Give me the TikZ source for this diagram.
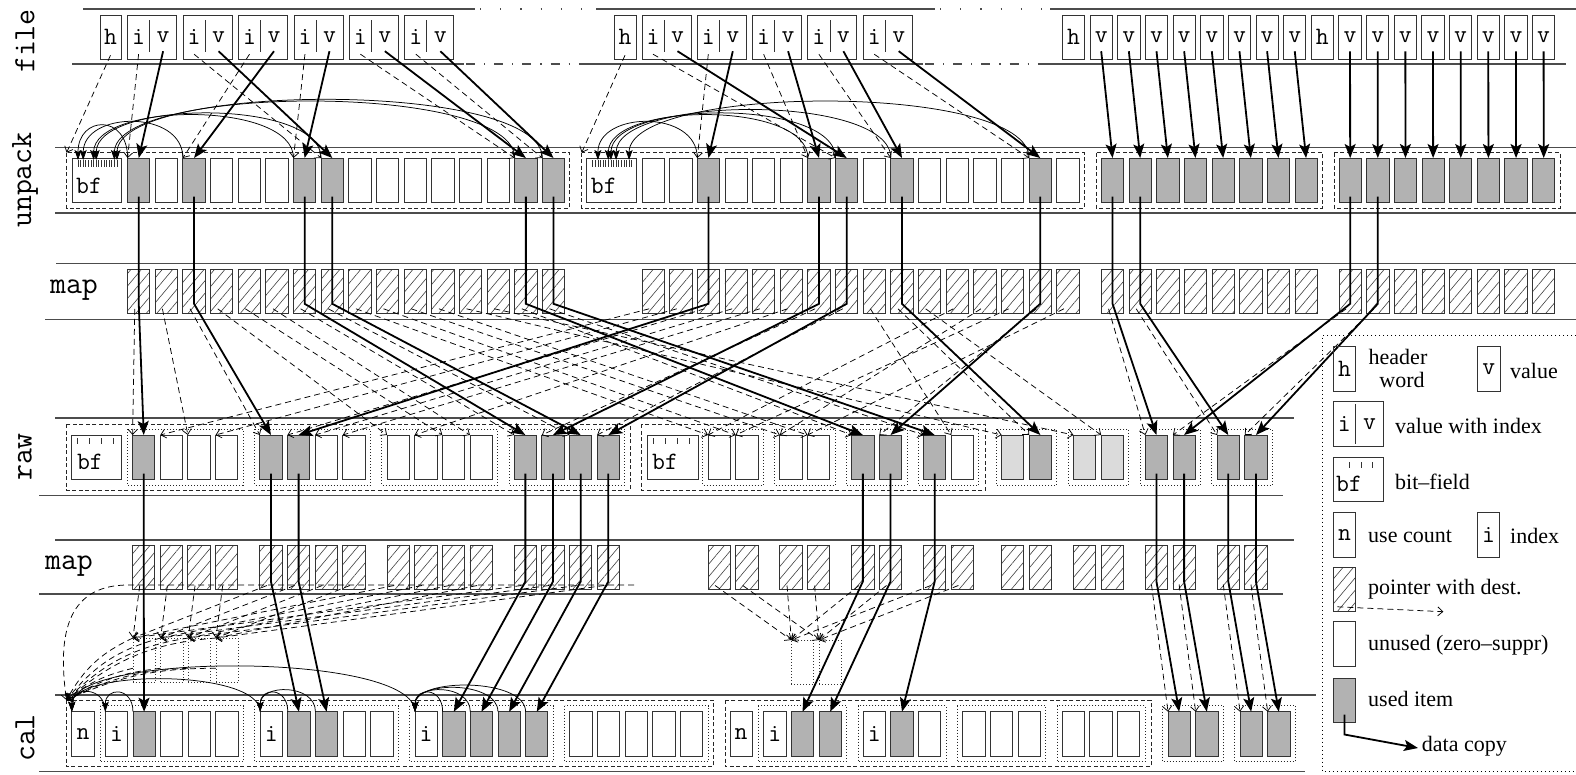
\documentclass[tikz,border=0pt]{standalone}
\usepackage{fontspec}
\setmainfont{Liberation Serif}
\usetikzlibrary{arrows.meta,patterns.meta,calc}
\begin{document}
\begin{tikzpicture}[x=1pt,y=-1pt,
  rule/.style={line width=1.1pt, draw=black!70},
  cell/.style={draw=black!80, line width=0.9pt, minimum width=22.3pt, minimum height=44.5pt, inner sep=0pt, outer sep=0pt, anchor=north west, font=\fontsize{25}{25}\selectfont\ttfamily},
  used/.style={cell, fill=black!30},
  hatch/.style={cell, pattern={Lines[angle=50,distance=8pt,line width=0.6pt]}, pattern color=black!75},
  temp/.style={cell, line width=0.8pt, dash pattern=on 1pt off 2pt},
  obox/.style={draw=black!85, line width=0.8pt, dash pattern=on 4pt off 2.5pt},
  gbox/.style={draw=black!85, line width=0.8pt, dash pattern=on 1pt off 2pt},
  tt/.style={font=\fontsize{25}{25}\selectfont\ttfamily, inner sep=0pt},
  lab/.style={font=\fontsize{31}{31}\selectfont\ttfamily, inner sep=0pt},
  txt/.style={font=\fontsize{22}{23.5}\selectfont, anchor=west, inner sep=0pt},
  data/.style={line width=1.8pt, -{Stealth[length=14pt,width=11pt,inset=3pt]}},
  ptr/.style={line width=0.75pt, dash pattern=on 6pt off 4pt, -{Straight Barb[length=5pt,width=9pt]}},
  bit/.style={line width=0.75pt, -{Stealth[length=10pt,width=7pt,inset=2pt]}},
  tick/.style={line width=0.8pt, draw=black!80},
  fillg/.style={draw=black!80, line width=0.9pt, fill=black!30},
  filll/.style={draw=black!80, line width=0.9pt, fill=black!14},
]
\useasboundingbox (0,0) rectangle (1576,774);
% ---------------- rules
\draw[rule] (83,9)--(475,9) (596,9)--(935,9) (1050,9)--(1576,9);
\draw[rule, dash pattern=on 1.2pt off 19pt] (480,9)--(596,9) (940,9)--(1050,9);
\draw[rule] (72,64)--(464,64) (583,64)--(923,64) (1040,64)--(1566,64);
\draw[rule, dash pattern=on 9pt off 9pt on 1.2pt off 9pt] (466,64)--(583,64) (925,64)--(1040,64);
\draw[rule] (55,147.3)--(1576,147.3) (55,213)--(1576,213);
\draw[rule] (56,263.3)--(1576,263.3) (45,319.3)--(1576,319.3);
\draw[rule] (55,418)--(1294,418) (39,495.7)--(1283,495.7);
\draw[rule] (55,540)--(1294,540) (39,594)--(1283,594);
\draw[rule] (55,695)--(1316,695) (39,771.5)--(1305,771.5);
% ---------------- row labels
\node[lab, rotate=90] (Lfile) at (25,41) {file};
\node[lab, rotate=90] (Lunpack) at (25,180) {unpack};
\node[lab] (Lmap1) at (74,290) {map};
\node[lab, rotate=90] (Lraw) at (25,457) {raw};
\node[lab] (Lmap2) at (69,566) {map};
\node[lab, rotate=90] (Lcal) at (25,738) {cal};
% ---------------- file row
\node[cell, minimum width=21pt] (fhL) at (100,15) {h};
\foreach \kk in {0,...,5}{
  \pgfmathsetmacro\xx{127.6+\kk*55.45}
  \node[cell, minimum width=49pt] (fbL-\kk) at (\xx,15) {};
  \draw[line width=0.8pt, draw=black!80] (\xx+22,20) -- (\xx+22,52);
  \node[tt] (fiL-\kk) at (\xx+11,37.2) {i};
  \node[tt] (fvL-\kk) at (\xx+35.5,37.2) {v};
}
\node[cell, minimum width=22pt] (fhM) at (614,15) {h};
\foreach \kk in {0,...,4}{
  \pgfmathsetmacro\xx{642+\kk*55.3}
  \node[cell, minimum width=49pt] (fbM-\kk) at (\xx,15) {};
  \draw[line width=0.8pt, draw=black!80] (\xx+22,20) -- (\xx+22,52);
  \node[tt] (fiM-\kk) at (\xx+11,37.2) {i};
  \node[tt] (fvM-\kk) at (\xx+35.5,37.2) {v};
}
\foreach \kk in {0,...,17}{
  \pgfmathsetmacro\xx{1062.4+\kk*27.65}
  \ifnum\kk=0 \def\lt{h}\else\ifnum\kk=9 \def\lt{h}\else\def\lt{v}\fi\fi
  \node[cell] (fR-\kk) at (\xx,15) {\lt};
}
% ---------------- unpack row
\draw[obox] (66.6,152.7) rectangle (569.6,208);
\coordinate (uLbox) at (66.6,152.7);
\node[cell, minimum width=49.3pt] (uLbf) at (72,158) {};
\node[tt, anchor=west] at ($(uLbf.west)+(4,6)$) {bf};
\foreach \bb in {0,...,15}{\pgfmathsetmacro\xx{78+\bb*2.6}
  \draw[tick] (\xx,160)--(\xx,167); \coordinate (bL-\bb) at (\xx,160);}
\foreach \kk/\st in {0/used,1/cell,2/used,3/cell,4/cell,5/cell,6/used,7/used,8/cell,9/cell,10/cell,11/cell,12/cell,13/cell,14/used,15/used}{
  \pgfmathsetmacro\xx{127.6+\kk*27.65}
  \node[\st] (uL-\kk) at (\xx,158) {};
  \node[hatch] (pL-\kk) at (\xx,269.3) {};
}
\draw[obox] (581.7,152.7) rectangle (1084,208);
\coordinate (uMbox) at (581.7,152.7);
\node[cell, minimum width=49.3pt] (uMbf) at (586.7,158) {};
\node[tt, anchor=west] at ($(uMbf.west)+(4,6)$) {bf};
\foreach \bb in {0,...,15}{\pgfmathsetmacro\xx{592.7+\bb*2.6}
  \draw[tick] (\xx,160)--(\xx,167); \coordinate (bM-\bb) at (\xx,160);}
\foreach \kk/\st in {0/cell,1/cell,2/used,3/cell,4/cell,5/cell,6/used,7/used,8/cell,9/used,10/cell,11/cell,12/cell,13/cell,14/used,15/cell}{
  \pgfmathsetmacro\xx{642+\kk*27.65}
  \node[\st] (uM-\kk) at (\xx,158) {};
  \node[hatch] (pM-\kk) at (\xx,269.3) {};
}
\draw[obox] (1096,152.7) rectangle (1322.5,208);
\draw[obox] (1334,152.7) rectangle (1560,208);
\foreach \kk in {0,...,7}{
  \pgfmathsetmacro\xx{1101.4+\kk*27.65}
  \node[used] (uA-\kk) at (\xx,158) {};
  \node[hatch] (pA-\kk) at (\xx,269.3) {};
  \pgfmathsetmacro\xx{1339+\kk*27.65}
  \node[used] (uB-\kk) at (\xx,158) {};
  \node[hatch] (pB-\kk) at (\xx,269.3) {};
}
% ---------------- raw + map2 rows
\draw[obox] (66.5,424.3) rectangle (630,490);
\node[cell, minimum width=49.8pt] (rLbf) at (71.8,435) {};
\node[tt, anchor=west] at ($(rLbf.west)+(5,5)$) {bf};
\foreach \ii in {0,...,3}{\pgfmathsetmacro\xx{77.8+\ii*12} \draw[tick] (\xx,438)--(\xx,444);}
\foreach \gi in {0,...,3}{
  \pgfmathsetmacro\gx{132.6+\gi*127.2}
  \draw[gbox] (\gx-5.3,429) rectangle (\gx+110.55,485);
  \foreach \jj in {0,...,3}{
    \pgfmathsetmacro\xx{\gx+\jj*27.65}
    \node[cell] (rL-\gi-\jj) at (\xx,435) {};
    \node[hatch] (qL-\gi-\jj) at (\xx,545) {};
  }
}
\draw[obox] (641,424.3) rectangle (985.6,490);
\node[cell, minimum width=51pt] (rMbf) at (647,435) {};
\node[tt, anchor=west] at ($(rMbf.west)+(5,5)$) {bf};
\foreach \ii in {0,...,3}{\pgfmathsetmacro\xx{653+\ii*12} \draw[tick] (\xx,438)--(\xx,444);}
\foreach \gi in {0,...,3}{
  \pgfmathsetmacro\gx{708+\gi*71.85}
  \draw[gbox] (\gx-5.3,429) rectangle (\gx+55.25,485);
  \foreach \jj in {0,1}{
    \pgfmathsetmacro\xx{\gx+\jj*27.65}
    \node[cell] (rM-\gi-\jj) at (\xx,435) {};
    \node[hatch] (qM-\gi-\jj) at (\xx,545) {};
  }
  \pgfmathsetmacro\gx{1001.6+\gi*71.85}
  \draw[gbox] (\gx-5.3,429) rectangle (\gx+55.25,485);
  \foreach \jj in {0,1}{
    \pgfmathsetmacro\xx{\gx+\jj*27.65}
    \node[cell] (rR-\gi-\jj) at (\xx,435) {};
    \node[hatch] (qR-\gi-\jj) at (\xx,545) {};
  }
}
\foreach \nm in {rL-0-0,rL-1-0,rL-1-1,rL-3-0,rL-3-1,rL-3-2,rL-3-3,rM-2-0,rM-2-1,rM-3-0,rR-0-1,rR-2-0,rR-2-1,rR-3-0,rR-3-1}
  \draw[fillg] (\nm.north west) rectangle (\nm.south east);
\foreach \nm in {rR-0-0,rR-1-0,rR-1-1}
  \draw[filll] (\nm.north west) rectangle (\nm.south east);
% ---------------- temporary boxes
\foreach \jj in {0,...,3}{\pgfmathsetmacro\xx{132.95+\jj*27.65}
  \node[temp] (tL-\jj) at (\xx,638) {};}
\node[temp] (tM-0) at (791.35,640) {};
\node[temp] (tM-1) at (819,640) {};
% ---------------- cal row
\draw[obox] (66.5,700) rectangle (713.5,766.7);
\coordinate (cLbox) at (66.5,700);
\node[cell] (cLn) at (71.8,711.7) {n};
\foreach \gi in {0,...,3}{
  \pgfmathsetmacro\gx{105.3+\gi*154.85}
  \draw[gbox] (\gx-5.3,705.7) rectangle (\gx+138.2,761.7);
  \foreach \jj in {0,...,4}{
    \pgfmathsetmacro\xx{\gx+\jj*27.65}
    \node[cell] (cL-\gi-\jj) at (\xx,711.7) {};
  }
}
\draw[obox] (725,700) rectangle (1151,766.7);
\node[cell] (cMn) at (730,711.7) {n};
\foreach \gi in {0,...,3}{
  \pgfmathsetmacro\gx{763.7+\gi*99.5}
  \draw[gbox] (\gx-5.3,705.7) rectangle (\gx+82.9,761.7);
  \foreach \jj in {0,...,2}{
    \pgfmathsetmacro\xx{\gx+\jj*27.65}
    \node[cell] (cM-\gi-\jj) at (\xx,711.7) {};
  }
}
\foreach \gi/\gx in {0/1168,1/1240}{
  \draw[gbox] (\gx-5.3,705.7) rectangle (\gx+55.25,761.7);
  \foreach \jj in {0,1}{
    \pgfmathsetmacro\xx{\gx+\jj*27.65}
    \node[used] (cR-\gi-\jj) at (\xx,711.7) {};
  }
}
\foreach \nm in {cL-0-1,cL-1-1,cL-1-2,cL-2-1,cL-2-2,cL-2-3,cL-2-4,cM-0-1,cM-0-2,cM-1-1}
  \draw[fillg] (\nm.north west) rectangle (\nm.south east);
\foreach \nm in {cL-0-0,cL-1-0,cL-2-0,cM-0-0,cM-1-0}
  \node[tt] at (\nm) {i};
% ================= connectors
% file -> unpack
\draw[ptr] ($(fhL)+(0,18)$) -- (uLbox);
\draw[ptr] ($(fhM)+(0,18)$) -- (uMbox);
\foreach \kk/\tg in {0/0,1/7,2/2,3/6,4/14,5/15}{
  \draw[ptr] ($(fiL-\kk)+(0,17)$) -- (uL-\tg.north west);
  \draw[data] ($(fvL-\kk)+(0,14)$) -- (uL-\tg.north);
  \draw[bit] let \p1=(uL-\tg.north west), \p2=(bL-\tg), \n1={40+0.09*(\x1-\x2)} in
    (\p1) .. controls +(0pt,\n1) and +(0pt,\n1) .. (\p2);
}
\foreach \kk/\tg in {0/7,1/2,2/6,3/9,4/14}{
  \draw[ptr] ($(fiM-\kk)+(0,17)$) -- (uM-\tg.north west);
  \draw[data] ($(fvM-\kk)+(0,14)$) -- (uM-\tg.north);
  \draw[bit] let \p1=(uM-\tg.north west), \p2=(bM-\tg), \n1={40+0.09*(\x1-\x2)} in
    (\p1) .. controls +(0pt,\n1) and +(0pt,\n1) .. (\p2);
}
\foreach \kk in {1,...,8}{\pgfmathtruncatemacro\tg{\kk-1}
  \draw[data] ($(fR-\kk)+(0,14)$) -- (uA-\tg.north);}
\foreach \kk in {10,...,17}{\pgfmathtruncatemacro\tg{\kk-10}
  \draw[data] ($(fR-\kk)+(0,14)$) -- (uB-\tg.north);}
% map1 -> raw pointers
\foreach \kk/\tg in {0/rL-0-0,1/rL-0-2,2/rL-1-0,3/rL-2-0,4/rL-2-2,5/rL-2-3,6/rL-3-0,7/rL-3-2,8/rM-0-0,9/rM-0-1,10/rM-1-0,11/rM-1-1,12/rR-0-0,13/rR-1-0,14/rM-2-0,15/rM-3-0}
  \draw[ptr] ($(pL-\kk.south)+(-4,-5)$) -- (\tg.north west);
\foreach \kk/\tg in {0/rL-0-1,1/rL-0-3,2/rL-1-1,3/rL-1-2,4/rL-1-3,5/rL-2-1,6/rL-3-1,7/rL-3-3,8/rM-3-1,9/rR-0-1,10/rR-1-1,11/rM-0-0,12/rM-1-0,13/rM-0-1,14/rM-2-1,15/rM-1-1}
  \draw[ptr] ($(pM-\kk.south)+(-4,-5)$) -- (\tg.north west);
\draw[ptr] ($(pA-0.south)+(-4,-5)$) -- (rR-2-0.north west);
\draw[ptr] ($(pA-1.south)+(-4,-5)$) -- (rR-3-0.north west);
\draw[ptr] ($(pB-0.south)+(-4,-5)$) -- (rR-2-1.north west);
\draw[ptr] ($(pB-1.south)+(-4,-5)$) -- (rR-3-1.north west);
% unpack -> raw data
\foreach \kk/\tg in {0/rL-0-0,2/rL-1-0,6/rL-3-0,7/rL-3-2,14/rM-2-0,15/rM-3-0}
  \draw[data] ($(uL-\kk.south)+(0,-6)$) -- ($(pL-\kk.south)+(0,-10)$) -- (\tg.north);
\foreach \kk/\tg in {2/rL-1-1,6/rL-3-1,7/rL-3-3,9/rR-0-1,14/rM-2-1}
  \draw[data] ($(uM-\kk.south)+(0,-6)$) -- ($(pM-\kk.south)+(0,-10)$) -- (\tg.north);
\draw[data] ($(uA-0.south)+(0,-6)$) -- ($(pA-0.south)+(0,-10)$) -- (rR-2-0.north);
\draw[data] ($(uA-1.south)+(0,-6)$) -- ($(pA-1.south)+(0,-10)$) -- (rR-3-0.north);
\draw[data] ($(uB-0.south)+(0,-6)$) -- ($(pB-0.south)+(0,-10)$) -- (rR-2-1.north);
\draw[data] ($(uB-1.south)+(0,-6)$) -- ($(pB-1.south)+(0,-10)$) -- (rR-3-1.north);
% map2 -> temporaries
\foreach \gi in {0,...,3}{\foreach \jj in {0,...,3}{
  \draw[ptr] ($(qL-\gi-\jj.south)+(-4,-4)$) -- (tL-\jj.north west);}}
\foreach \gi in {0,...,3}{\foreach \jj in {0,1}{
  \draw[ptr] ($(qM-\gi-\jj.south)+(-4,-4)$) -- (tM-\jj.north west);}}
\foreach \jj in {0,...,3}{
  \draw[ptr] (tL-\jj.north west) to[bend right=18] (cLbox);
  \draw[ptr] ($(tL-\jj.west)+(0,8)$) to[bend right=12] (cLbox);}
\coordinate (bigS) at (634,585);
\draw[ptr] (bigS) -- (128,585) .. controls (64,585) and (58,640) .. (cLbox);
\foreach \gi/\jj/\tg in {2/0/cR-0-0,2/1/cR-0-1,3/0/cR-1-0,3/1/cR-1-1}
  \draw[ptr] ($(qR-\gi-\jj.south)+(-5,-5)$) -- (\tg.north west);
% raw -> cal data
\foreach \bk/\gi/\jj/\tg in {L/0/0/cL-0-1,L/1/0/cL-1-1,L/1/1/cL-1-2,L/3/0/cL-2-1,L/3/1/cL-2-2,L/3/2/cL-2-3,L/3/3/cL-2-4,M/2/0/cM-0-1,M/2/1/cM-0-2,M/3/0/cM-1-1,R/2/0/cR-0-0,R/2/1/cR-0-1,R/3/0/cR-1-0,R/3/1/cR-1-1}
  \draw[data] ($(r\bk-\gi-\jj.south)+(0,-6)$) -- ($(q\bk-\gi-\jj.south)+(0,-8)$) -- (\tg.north);
% cal index arcs
\foreach \src/\dst in {cL-0-1/cL-0-0,cL-1-1/cL-1-0,cL-1-2/cL-1-0,cL-2-1/cL-2-0,cL-2-2/cL-2-0,cL-2-3/cL-2-0,cL-2-4/cL-2-0,cL-0-0/cLn,cL-1-0/cLn,cL-2-0/cLn}
  \draw[bit] let \p1=(\src.north west), \p2=(\dst.north west), \n1={22+0.11*(\x1-\x2)} in
    (\p1) .. controls +(0pt,\n1) and +(0pt,\n1) .. (\p2);
% ================= legend
\draw[line width=0.8pt, dash pattern=on 1pt off 3pt] (1576,335) -- (1322.7,335) -- (1322.7,771.5) -- (1576,771.5);
\node[cell] (lgh) at (1333.3,346.7) {h};
\node[txt, anchor=center, align=center] (lgth) at (1398,368.5) {header\\\hspace*{8pt}word};
\node[cell] (lgv) at (1477.7,346.7) {v};
\node[txt] (lgtv) at (1510,371) {value};
\node[cell, minimum width=50pt] (lgiv) at (1333.3,401.7) {};
\draw[line width=0.8pt, draw=black!80] (1355,404) -- (1355,444);
\node[tt] (lgi1) at (1344.3,424) {i};
\node[tt] (lgv1) at (1369.5,424) {v};
\node[txt] (lgtiv) at (1395,426) {value with index};
\node[cell, minimum width=50pt] (lgbf) at (1333.3,457.3) {};
\foreach \xx in {1349,1361,1372} \draw[tick] (\xx,462)--(\xx,467.5);
\node[tt, anchor=west] (lgbft) at (1336,484) {bf};
\node[txt] (lgtbf) at (1395,482) {bit--field};
\node[cell] (lgn) at (1333.3,512.7) {n};
\node[txt] (lgtn) at (1368,536) {use count};
\node[cell] (lgi) at (1477.3,512.7) {i};
\node[txt] (lgti) at (1510,536) {index};
\node[hatch] (lgp) at (1333.3,567.3) {};
\node[txt] (lgtp) at (1368,589) {pointer with dest.};
\coordinate (lgpe) at (1443.3,611.7);
\draw[ptr] ($(lgp.south)+(-7,-5)$) -- (lgpe);
\node[cell] (lgun) at (1333.3,621.7) {};
\node[txt] (lgtun) at (1368,645) {unused (zero--suppr)};
\node[used] (lgus) at (1333.3,678) {};
\node[txt] (lgtus) at (1368,699) {used item};
\coordinate (lgde) at (1418,748);
\draw[data] ($(lgus.south)+(0,-8)$) -- ($(lgus.south)+(0,12)$) -- (lgde);
\node[txt] (lgtd) at (1421.7,746) {data copy};
\end{tikzpicture}
\end{document}
